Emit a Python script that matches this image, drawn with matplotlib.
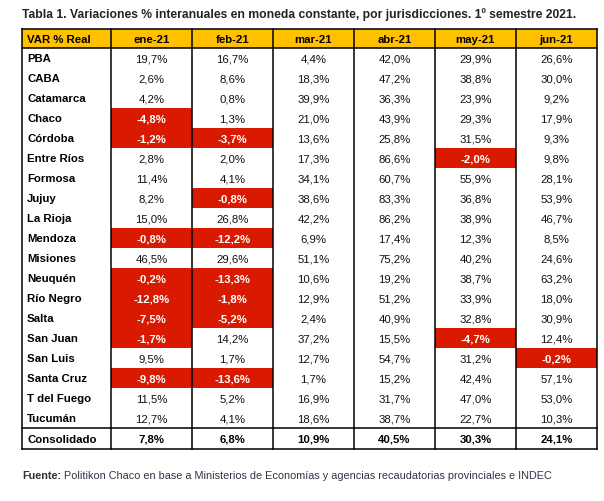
import matplotlib
matplotlib.use("Agg")
import matplotlib.pyplot as plt
from matplotlib.patches import Rectangle

plt.rcParams['font.family'] = ['Liberation Sans', 'DejaVu Sans']

title = "Tabla 1. Variaciones % interanuales en moneda constante, por jurisdicciones. 1º semestre 2021."
corner = "VAR % Real"
months = ["ene-21", "feb-21", "mar-21", "abr-21", "may-21", "jun-21"]
regions = ["PBA", "CABA", "Catamarca", "Chaco", "Córdoba", "Entre Ríos", "Formosa", "Jujuy",
           "La Rioja", "Mendoza", "Misiones", "Neuquén", "Río Negro", "Salta", "San Juan",
           "San Luis", "Santa Cruz", "T del Fuego", "Tucumán"]
ene = [19.7, 2.6, 4.2, -4.8, -1.2, 2.8, 11.4, 8.2, 15.0, -0.8, 46.5, -0.2, -12.8, -7.5, -1.7, 9.5, -9.8, 11.5, 12.7]
feb = [16.7, 8.6, 0.8, 1.3, -3.7, 2.0, 4.1, -0.8, 26.8, -12.2, 29.6, -13.3, -1.8, -5.2, 14.2, 1.7, -13.6, 5.2, 4.1]
mar = [4.4, 18.3, 39.9, 21.0, 13.6, 17.3, 34.1, 38.6, 42.2, 6.9, 51.1, 10.6, 12.9, 2.4, 37.2, 12.7, 1.7, 16.9, 18.6]
abr = [42.0, 47.2, 36.3, 43.9, 25.8, 86.6, 60.7, 83.3, 86.2, 17.4, 75.2, 19.2, 51.2, 40.9, 15.5, 54.7, 15.2, 31.7, 38.7]
may = [29.9, 38.8, 23.9, 29.3, 31.5, -2.0, 55.9, 36.8, 38.9, 12.3, 40.2, 38.7, 33.9, 32.8, -4.7, 31.2, 42.4, 47.0, 22.7]
jun = [26.6, 30.0, 9.2, 17.9, 9.3, 9.8, 28.1, 53.9, 46.7, 8.5, 24.6, 63.2, 18.0, 30.9, 12.4, -0.2, 57.1, 53.0, 10.3]
total_label = "Consolidado"
total = [7.8, 6.8, 10.9, 40.5, 30.3, 24.1]
source_bold = "Fuente:"
source_text = " Politikon Chaco en base a Ministerios de Economías y agencias recaudatorias provinciales e INDEC"

cols = [ene, feb, mar, abr, may, jun]

def fmt(v):
    return f"{v:.1f}".replace(".", ",") + "%"

W, H = 604, 502
fig = plt.figure(figsize=(W / 100, H / 100), dpi=100)
ax = fig.add_axes([0, 0, 1, 1])
ax.set_xlim(0, W)
ax.set_ylim(H, 0)
ax.axis('off')

xe = [22, 111, 192, 273, 354, 435, 516, 597]
y_head_top, y_head_bot = 29.5, 49
rh = 20
y_total_top = y_head_bot + rh * len(regions)
y_total_bot = y_total_top + 21

RED = "#DA1A00"
ORANGE = "#FFC000"
fs = 8.2

# header
ax.add_patch(Rectangle((xe[0], y_head_top), xe[-1] - xe[0], y_head_bot - y_head_top,
                       facecolor=ORANGE, edgecolor='none'))
ax.text(xe[0] + 5, (y_head_top + y_head_bot) / 2 + 0.5, corner, fontsize=fs, fontweight='bold',
        ha='left', va='center')
for j, m in enumerate(months):
    ax.text((xe[j + 1] + xe[j + 2]) / 2, (y_head_top + y_head_bot) / 2 + 0.5, m, fontsize=fs,
            fontweight='bold', ha='center', va='center')

# rows
for i, r in enumerate(regions):
    yt = y_head_bot + i * rh
    yc = yt + rh / 2 + 0.5
    ax.text(xe[0] + 5, yc, r, fontsize=fs, fontweight='bold', ha='left', va='center')
    for j, col in enumerate(cols):
        v = col[i]
        xc = (xe[j + 1] + xe[j + 2]) / 2
        if v < 0:
            ax.add_patch(Rectangle((xe[j + 1], yt), xe[j + 2] - xe[j + 1], rh,
                                   facecolor=RED, edgecolor='none', zorder=1))
            ax.text(xc, yc, fmt(v), fontsize=fs, fontweight='bold', color='white',
                    ha='center', va='center', zorder=3)
        else:
            ax.text(xc, yc, fmt(v), fontsize=fs, color='#111111', ha='center', va='center', zorder=3)

# total row
yc = (y_total_top + y_total_bot) / 2 + 0.5
ax.text(xe[0] + 5, yc, total_label, fontsize=fs, fontweight='bold', ha='left', va='center')
for j, v in enumerate(total):
    ax.text((xe[j + 1] + xe[j + 2]) / 2, yc, fmt(v), fontsize=fs, fontweight='bold',
            ha='center', va='center')

# lines
lw = 1.1
for x in xe:
    ax.plot([x, x], [y_head_top, y_total_bot], color='black', lw=lw, zorder=4, solid_capstyle='projecting')
for y in [y_head_top, y_head_bot, y_total_top, y_total_bot]:
    ax.plot([xe[0], xe[-1]], [y, y], color='black', lw=lw, zorder=4, solid_capstyle='projecting')

# title
ax.text(xe[0], 15, title, fontsize=8.7, fontweight='bold', color='#222222', ha='left', va='center')

# source
t = ax.text(xe[0], 476, source_bold, fontsize=7.85, fontweight='bold', color='#333333',
            ha='left', va='center')
fig.canvas.draw()
bb = t.get_window_extent()
x_end = ax.transData.inverted().transform((bb.x1, bb.y0))[0]
ax.text(x_end, 476, source_text, fontsize=7.85, color='#333344', ha='left', va='center')

fig.savefig("out.png", dpi=100)
